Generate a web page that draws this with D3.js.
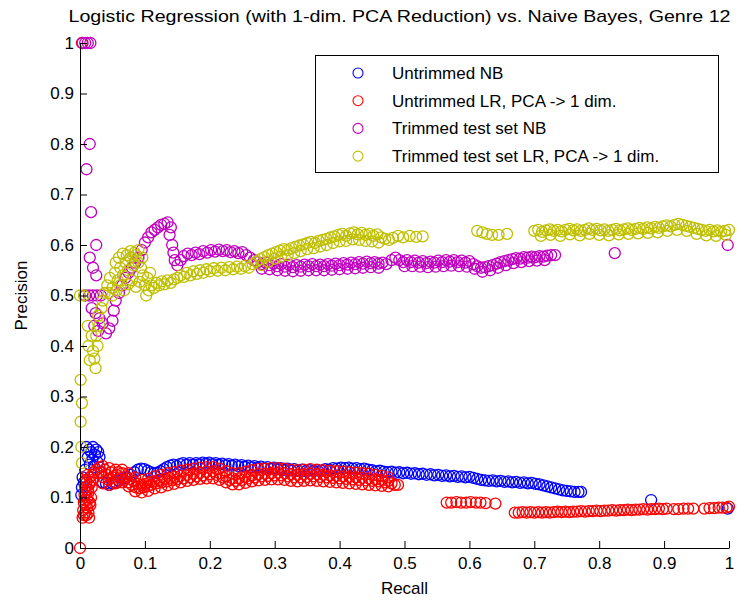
<!DOCTYPE html>
<html>
<head>
<meta charset="utf-8">
<script src="https://cdn.jsdelivr.net/npm/d3@7"></script>
<style>
  body { margin: 0; background: #fff; }
  svg { display: block; }
  text { font-family: "Liberation Sans", Arial, sans-serif; fill: #000; }
</style>
</head>
<body>
<svg width="744" height="601"></svg>
<script>
// precision / recall pairs: [recall, precision]
var untrimmedNB = [
  [0.002,0.105],[0.003,0.12],[0.004,0.14],[0.006,0.13],[0.008,0.155],[0.010,0.20],[0.012,0.18],[0.014,0.195],
  [0.015,0.165],[0.017,0.19],[0.019,0.175],[0.020,0.20],[0.022,0.16],[0.023,0.185],[0.025,0.195],[0.027,0.17],
  [0.028,0.19],[0.030,0.18],[0.032,0.15],[0.035,0.13],[0.040,0.128],[0.045,0.125],[0.050,0.128],[0.055,0.13],
  [0.060,0.133],[0.066,0.137],[0.072,0.14],[0.078,0.145],[0.084,0.15],[0.089,0.155],[0.094,0.157],[0.099,0.156],
  [0.104,0.153],[0.109,0.15],[0.114,0.148],[0.119,0.149],[0.124,0.152],[0.129,0.156],[0.134,0.16],[0.139,0.163],
  [0.144,0.165],[0.149,0.162],[0.154,0.166],[0.159,0.168],[0.164,0.165],[0.169,0.168],[0.174,0.165],[0.179,0.168],
  [0.184,0.166],[0.189,0.169],[0.194,0.167],[0.199,0.169],[0.204,0.166],[0.209,0.168],[0.214,0.165],[0.219,0.167],
  [0.224,0.164],[0.229,0.166],[0.234,0.163],[0.239,0.165],[0.244,0.162],[0.249,0.164],[0.254,0.161],[0.259,0.163],
  [0.264,0.16],[0.269,0.162],[0.274,0.159],[0.279,0.161],[0.284,0.158],[0.289,0.16],[0.294,0.157],[0.299,0.159],
  [0.304,0.156],[0.309,0.158],[0.314,0.155],[0.32,0.157],[0.325,0.154],[0.33,0.156],[0.336,0.153],[0.342,0.155],
  [0.348,0.152],[0.354,0.154],[0.36,0.152],[0.366,0.154],[0.372,0.153],[0.378,0.156],[0.384,0.155],[0.39,0.158],
  [0.396,0.157],[0.402,0.159],[0.408,0.158],[0.414,0.159],[0.42,0.157],[0.426,0.158],[0.432,0.156],[0.438,0.157],
  [0.444,0.155],[0.45,0.154],[0.456,0.152],[0.462,0.153],[0.468,0.151],[0.474,0.15],[0.48,0.151],[0.486,0.149],
  [0.492,0.15],[0.498,0.148],[0.504,0.149],[0.51,0.147],[0.516,0.148],[0.522,0.146],[0.528,0.147],[0.534,0.145],
  [0.54,0.146],[0.546,0.144],[0.552,0.145],[0.558,0.143],[0.564,0.144],[0.57,0.142],[0.576,0.143],[0.582,0.141],
  [0.588,0.142],[0.594,0.14],[0.6,0.141],[0.606,0.139],[0.612,0.137],[0.618,0.135],[0.624,0.134],[0.63,0.133],
  [0.636,0.134],[0.642,0.132],[0.648,0.133],[0.654,0.131],[0.66,0.132],[0.666,0.13],[0.672,0.131],[0.678,0.129],
  [0.684,0.13],[0.69,0.128],[0.696,0.129],[0.702,0.127],[0.708,0.126],[0.714,0.124],[0.72,0.122],[0.726,0.12],
  [0.732,0.118],[0.738,0.116],[0.744,0.114],[0.75,0.113],[0.756,0.112],[0.762,0.111],[0.768,0.111],[0.772,0.111],
  [0.88,0.095],[0.998,0.078]
];

var untrimmedLR = [
  [0,0],[0.003,1.0],
  [0.004,0.06],[0.005,0.075],[0.006,0.09],[0.007,0.105],[0.008,0.12],[0.009,0.135],[0.008,0.07],[0.010,0.065],
  [0.011,0.08],[0.012,0.095],[0.013,0.11],[0.014,0.125],[0.015,0.14],[0.013,0.07],[0.016,0.085],[0.017,0.1],
  [0.006,0.065],[0.009,0.085],[0.011,0.1],[0.012,0.115],[0.010,0.13],[0.012,0.145],[0.016,0.13],[0.019,0.145],
  [0.014,0.06],[0.015,0.09],[0.007,0.095],[0.009,0.11],
  [0.018,0.12],[0.02,0.135],[0.022,0.15],[0.025,0.155],[0.028,0.148],[0.03,0.16],[0.033,0.15],[0.036,0.14],
  [0.038,0.155],[0.041,0.145],[0.044,0.135],[0.047,0.15],[0.05,0.14],[0.053,0.13],[0.056,0.145],[0.059,0.15],
  [0.062,0.14],[0.065,0.148],[0.068,0.135],[0.071,0.142],[0.074,0.13],[0.077,0.137],[0.08,0.125],[0.083,0.132],
  [0.086,0.12],[0.089,0.127],[0.092,0.118],[0.095,0.125],[0.098,0.12],[0.101,0.127],[0.104,0.122],[0.107,0.13],
  [0.11,0.125],[0.114,0.132],[0.118,0.128],[0.122,0.135],[0.126,0.13],[0.13,0.137],[0.134,0.132],[0.138,0.139],
  [0.142,0.134],[0.146,0.141],[0.15,0.136],[0.155,0.143],[0.16,0.138],[0.165,0.145],[0.17,0.14],[0.175,0.147],
  [0.18,0.142],[0.185,0.149],[0.19,0.144],[0.195,0.151],[0.2,0.146],[0.205,0.152],[0.21,0.145],[0.215,0.148],
  [0.22,0.14],[0.225,0.142],[0.23,0.135],[0.235,0.138],[0.24,0.133],[0.245,0.138],[0.25,0.135],[0.255,0.141],
  [0.26,0.138],[0.265,0.144],[0.27,0.14],[0.275,0.146],[0.28,0.142],[0.285,0.147],[0.29,0.143],[0.295,0.148],
  [0.3,0.144],[0.305,0.149],[0.31,0.144],[0.315,0.148],[0.32,0.142],[0.325,0.146],[0.33,0.14],[0.335,0.145],
  [0.34,0.14],[0.345,0.146],[0.35,0.141],[0.355,0.147],[0.36,0.142],[0.365,0.146],[0.37,0.141],[0.375,0.145],
  [0.38,0.14],[0.385,0.144],[0.39,0.139],[0.395,0.143],[0.4,0.138],[0.405,0.142],[0.41,0.137],[0.415,0.141],
  [0.42,0.136],[0.425,0.14],[0.43,0.135],[0.435,0.139],[0.44,0.134],[0.445,0.138],[0.45,0.133],[0.455,0.136],
  [0.46,0.132],[0.465,0.135],[0.47,0.13],[0.475,0.133],[0.48,0.128],[0.485,0.125],[0.49,0.125],
  // upper edge of the thick band
  [0.035,0.162],[0.045,0.158],[0.055,0.155],[0.065,0.155],[0.075,0.148],[0.085,0.14],[0.095,0.135],[0.105,0.137],
  [0.115,0.142],[0.125,0.145],[0.135,0.148],[0.145,0.15],[0.155,0.153],[0.165,0.155],[0.175,0.157],[0.185,0.159],
  [0.195,0.16],[0.205,0.16],[0.215,0.157],[0.225,0.152],[0.235,0.148],[0.245,0.148],[0.255,0.151],[0.265,0.154],
  [0.275,0.156],[0.285,0.157],[0.295,0.158],[0.305,0.158],[0.315,0.157],[0.325,0.155],[0.335,0.154],[0.345,0.155],
  [0.355,0.156],[0.365,0.155],[0.375,0.154],[0.385,0.153],[0.395,0.152],[0.405,0.151],[0.415,0.15],[0.425,0.149],
  [0.435,0.148],[0.445,0.147],[0.455,0.145],[0.465,0.143],[0.475,0.14],
  // lower edge
  [0.035,0.128],[0.045,0.125],[0.055,0.128],[0.065,0.13],[0.075,0.122],[0.085,0.112],[0.095,0.11],[0.105,0.113],
  [0.115,0.118],[0.125,0.12],[0.135,0.124],[0.145,0.127],[0.155,0.13],[0.165,0.133],[0.175,0.135],[0.185,0.137],
  [0.195,0.138],[0.205,0.138],[0.215,0.135],[0.225,0.13],[0.235,0.126],[0.245,0.126],[0.255,0.129],[0.265,0.132],
  [0.275,0.134],[0.285,0.135],[0.295,0.136],[0.305,0.136],[0.315,0.135],[0.325,0.133],[0.335,0.132],[0.345,0.133],
  [0.355,0.134],[0.365,0.133],[0.375,0.132],[0.385,0.131],[0.395,0.13],[0.405,0.129],[0.415,0.128],[0.425,0.127],
  [0.435,0.126],[0.445,0.125],[0.455,0.124],[0.465,0.123],[0.475,0.122],
  [0.565,0.09],[0.572,0.09],[0.58,0.091],[0.587,0.09],[0.595,0.09],[0.602,0.091],[0.61,0.09],[0.617,0.09],
  [0.625,0.089],[0.64,0.088],
  [0.67,0.07],[0.676,0.07],[0.682,0.071],[0.688,0.07],[0.694,0.071],[0.7,0.07],[0.706,0.071],[0.712,0.07],
  [0.718,0.071],[0.724,0.07],[0.73,0.071],[0.736,0.072],[0.742,0.071],[0.748,0.072],[0.754,0.071],[0.76,0.072],
  [0.766,0.072],[0.772,0.073],[0.778,0.072],[0.784,0.073],[0.79,0.073],[0.796,0.074],[0.802,0.073],[0.808,0.074],
  [0.814,0.074],[0.82,0.075],[0.826,0.074],[0.832,0.075],[0.838,0.075],[0.844,0.076],[0.85,0.075],[0.856,0.076],
  [0.862,0.076],[0.868,0.077],[0.874,0.076],[0.88,0.077],[0.886,0.077],[0.892,0.078],[0.898,0.077],[0.904,0.078],
  [0.915,0.077],[0.922,0.077],[0.93,0.078],[0.937,0.078],[0.945,0.078],[0.962,0.078],[0.97,0.079],[0.977,0.079],
  [0.984,0.08],[0.99,0.08],[0.996,0.08],[1.0,0.082]
];

var trimmedNB = [
  [0.004,1.0],[0.008,1.0],[0.012,1.0],[0.016,1.0],
  [0.015,0.8],[0.01,0.75],[0.017,0.665],[0.025,0.6],[0.015,0.575],[0.02,0.555],[0.025,0.54],
  [0.008,0.5],[0.014,0.5],[0.02,0.5],[0.026,0.5],[0.032,0.5],
  [0.018,0.475],[0.024,0.465],[0.03,0.455],[0.022,0.44],[0.028,0.43],[0.035,0.445],[0.04,0.425],[0.045,0.435],
  [0.05,0.45],[0.052,0.47],[0.055,0.49],[0.06,0.505],[0.065,0.52],[0.07,0.535],[0.075,0.545],[0.08,0.555],
  [0.085,0.565],[0.09,0.575],[0.095,0.59],[0.1,0.605],[0.105,0.615],[0.11,0.625],[0.115,0.63],[0.12,0.635],
  [0.125,0.64],[0.13,0.642],[0.135,0.645],[0.14,0.635],[0.138,0.62],[0.142,0.6],[0.144,0.585],[0.146,0.57],
  [0.15,0.56],[0.155,0.57],[0.16,0.578],[0.166,0.583],[0.172,0.58],[0.178,0.585],[0.184,0.582],[0.19,0.588],
  [0.196,0.585],[0.202,0.59],[0.208,0.587],[0.214,0.591],[0.22,0.588],[0.226,0.59],[0.232,0.586],[0.238,0.588],
  [0.244,0.584],[0.25,0.586],[0.256,0.58],[0.262,0.575],[0.268,0.57],[0.274,0.566],[0.28,0.562],[0.286,0.565],
  [0.292,0.56],[0.298,0.563],[0.304,0.558],[0.31,0.562],[0.316,0.557],[0.322,0.561],[0.328,0.556],[0.334,0.56],
  [0.34,0.557],[0.346,0.561],[0.352,0.558],[0.358,0.562],[0.364,0.558],[0.37,0.561],[0.376,0.558],[0.382,0.562],
  [0.388,0.559],[0.394,0.563],[0.4,0.56],[0.406,0.564],[0.412,0.561],[0.418,0.565],[0.424,0.562],[0.43,0.566],
  [0.436,0.563],[0.442,0.567],[0.448,0.564],[0.454,0.566],[0.46,0.563],[0.466,0.565],[0.472,0.562],[0.48,0.57],
  [0.486,0.575],[0.492,0.57],[0.498,0.566],[0.504,0.57],[0.51,0.566],[0.516,0.569],[0.522,0.565],[0.528,0.568],
  [0.534,0.564],[0.54,0.567],[0.546,0.565],[0.552,0.569],[0.558,0.566],[0.564,0.57],[0.57,0.567],[0.576,0.57],
  [0.582,0.566],[0.588,0.569],[0.594,0.565],[0.6,0.568],[0.606,0.562],[0.612,0.558],[0.618,0.555],[0.624,0.556],
  [0.63,0.558],[0.636,0.56],[0.642,0.563],[0.648,0.566],[0.654,0.568],[0.66,0.57],[0.666,0.572],[0.672,0.574],
  [0.678,0.573],[0.684,0.576],[0.69,0.575],[0.696,0.577],[0.702,0.576],[0.708,0.578],[0.714,0.577],[0.72,0.579],
  [0.726,0.58],[0.732,0.58],
  [0.28,0.553],[0.292,0.552],[0.304,0.55],[0.316,0.549],[0.328,0.548],[0.34,0.549],[0.352,0.55],[0.364,0.55],
  [0.376,0.55],[0.388,0.551],[0.4,0.552],[0.412,0.553],[0.424,0.554],[0.436,0.555],[0.448,0.556],[0.46,0.555],
  [0.5,0.558],[0.512,0.558],[0.524,0.557],[0.536,0.556],[0.548,0.557],[0.56,0.558],[0.572,0.559],[0.584,0.558],
  [0.596,0.557],[0.608,0.553],[0.62,0.547],[0.632,0.55],[0.644,0.555],[0.656,0.56],[0.668,0.564],[0.68,0.566],
  [0.692,0.568],[0.704,0.569],[0.716,0.57],
  [0.824,0.584],[0.998,0.6]
];

var trimmedLR = [
  [0.0,0.5],[0.006,0.5],[0.003,0.168],[0.002,0.2],[0.001,0.25],[0.003,0.287],[0.001,0.333],
  [0.012,0.44],[0.018,0.42],[0.013,0.4],[0.02,0.39],[0.015,0.372],[0.024,0.356],[0.022,0.375],[0.027,0.4],
  [0.025,0.42],[0.03,0.44],[0.028,0.46],[0.033,0.475],[0.035,0.49],[0.038,0.505],[0.042,0.52],[0.046,0.535],
  [0.05,0.515],[0.054,0.545],[0.058,0.53],[0.062,0.555],[0.066,0.54],[0.07,0.565],[0.074,0.55],[0.078,0.575],
  [0.082,0.56],[0.086,0.58],[0.09,0.565],[0.094,0.555],[0.097,0.54],[0.1,0.52],[0.102,0.5],[0.106,0.51],
  [0.044,0.505],[0.05,0.5],[0.056,0.51],[0.062,0.52],[0.068,0.51],[0.074,0.522],[0.08,0.53],[0.086,0.517],
  [0.092,0.527],[0.055,0.565],[0.06,0.575],[0.066,0.583],[0.072,0.58],[0.078,0.588],[0.084,0.585],[0.09,0.59],
  [0.096,0.575],[0.104,0.535],[0.108,0.545],
  [0.11,0.52],[0.114,0.515],[0.118,0.525],[0.122,0.52],[0.126,0.528],[0.13,0.522],[0.135,0.53],[0.14,0.525],
  [0.145,0.532],[0.15,0.535],[0.155,0.54],[0.16,0.537],[0.165,0.545],[0.17,0.54],[0.175,0.548],[0.18,0.543],
  [0.185,0.55],[0.19,0.545],[0.195,0.552],[0.2,0.548],[0.206,0.554],[0.212,0.549],[0.218,0.555],[0.224,0.55],
  [0.23,0.556],[0.236,0.552],[0.242,0.557],[0.248,0.553],[0.254,0.558],[0.26,0.555],[0.266,0.562],[0.272,0.567],
  [0.278,0.572],[0.284,0.576],[0.29,0.58],[0.296,0.583],[0.302,0.586],[0.308,0.589],[0.314,0.592],[0.32,0.59],
  [0.326,0.594],[0.332,0.596],[0.338,0.599],[0.344,0.601],[0.35,0.604],[0.356,0.606],[0.362,0.604],[0.368,0.608],
  [0.374,0.61],[0.38,0.612],[0.386,0.615],[0.392,0.617],[0.398,0.62],[0.404,0.622],[0.41,0.618],[0.416,0.623],
  [0.422,0.625],[0.428,0.621],[0.434,0.624],[0.44,0.62],[0.446,0.622],[0.452,0.618],[0.458,0.621],[0.464,0.615],
  [0.47,0.612],[0.476,0.61],[0.482,0.614],[0.49,0.618],[0.498,0.615],[0.508,0.618],[0.518,0.616],[0.528,0.617],
  [0.28,0.56],[0.29,0.567],[0.3,0.573],[0.31,0.577],[0.32,0.58],[0.33,0.584],[0.34,0.588],[0.35,0.592],
  [0.36,0.594],[0.37,0.597],[0.38,0.6],[0.39,0.604],[0.4,0.607],[0.41,0.608],[0.42,0.611],[0.43,0.61],
  [0.44,0.608],[0.45,0.607],[0.46,0.605],
  [0.612,0.628],[0.62,0.625],[0.627,0.622],[0.635,0.62],[0.645,0.62],[0.658,0.622],
  [0.7,0.628],[0.706,0.63],[0.712,0.626],[0.718,0.629],[0.724,0.631],[0.73,0.628],[0.736,0.63],[0.742,0.627],
  [0.748,0.63],[0.754,0.632],[0.76,0.629],[0.766,0.631],[0.772,0.628],[0.778,0.63],[0.784,0.633],[0.79,0.63],
  [0.796,0.632],[0.802,0.629],[0.808,0.631],[0.814,0.628],[0.82,0.63],[0.826,0.632],[0.832,0.629],[0.838,0.631],
  [0.844,0.633],[0.85,0.63],[0.856,0.632],[0.862,0.634],[0.868,0.632],[0.874,0.635],[0.88,0.633],[0.886,0.636],
  [0.892,0.634],[0.898,0.637],[0.904,0.639],[0.91,0.637],[0.916,0.64],[0.922,0.642],[0.928,0.64],[0.934,0.638],
  [0.94,0.636],[0.946,0.634],[0.952,0.632],[0.958,0.63],[0.964,0.628],[0.97,0.63],[0.976,0.627],[0.982,0.629],
  [0.988,0.626],[0.994,0.628],[1.0,0.63],
  [0.71,0.618],[0.725,0.62],[0.74,0.618],[0.755,0.621],[0.77,0.619],[0.785,0.622],[0.8,0.62],[0.815,0.619],
  [0.83,0.621],[0.845,0.622],[0.86,0.623],[0.875,0.624],[0.89,0.625],[0.905,0.628],[0.92,0.63],[0.935,0.628],
  [0.95,0.622],[0.965,0.619],[0.98,0.618],[0.995,0.62]
];

var seriesNames = ["Untrimmed NB", "Untrimmed LR, PCA -> 1 dim.", "Trimmed test set NB", "Trimmed test set LR, PCA -> 1 dim."];
var seriesColors = ["#0000ff", "#ff0000", "#bf00bf", "#bfbf00"];
var seriesData = [untrimmedNB, untrimmedLR, trimmedNB, trimmedLR];
var tickValues = [0, 0.1, 0.2, 0.3, 0.4, 0.5, 0.6, 0.7, 0.8, 0.9, 1];
var tickLabels = ["0", "0.1", "0.2", "0.3", "0.4", "0.5", "0.6", "0.7", "0.8", "0.9", "1"];

// plot box (window.top is read-only, so no bare "top" here)
var pLeft = 80, pRight = 729, pTop = 43, pBottom = 548;

var svg = d3.select("svg"),
  x = d3.scaleLinear().domain([0, 1]).range([pLeft, pRight]),
  y = d3.scaleLinear().domain([0, 1]).range([pBottom, pTop]);

// points first, axes drawn over them like matlab does
var punti = svg.append("g").attr("class", "punti");
seriesData.forEach(function(serie, k) {
  punti.append("g")
    .selectAll("circle")
    .data(serie)
    .enter().append("circle")
      .attr("cx", function(d) { return x(d[0]); })
      .attr("cy", function(d) { return y(d[1]); })
      .attr("r", 5.5)
      .attr("fill", "none")
      .attr("stroke", seriesColors[k])
      .attr("stroke-width", 1.3);
});

var fmt = function(d) { return tickLabels[tickValues.indexOf(d)]; };

var assex = svg.append("g")
  .attr("transform", "translate(0," + pBottom + ")")
  .call(d3.axisBottom(x).tickValues(tickValues).tickFormat(fmt)
    .tickSizeInner(-7).tickSizeOuter(0).tickPadding(9));

var assey = svg.append("g")
  .attr("transform", "translate(" + pLeft + ",0)")
  .call(d3.axisLeft(y).tickValues(tickValues).tickFormat(fmt)
    .tickSizeInner(-7).tickSizeOuter(0).tickPadding(6));

[assex, assey].forEach(function(a) {
  a.selectAll("text").style("font-size", "17px").style("font-family", "'Liberation Sans', Arial, sans-serif").attr("fill", "#000");
  a.selectAll("line").attr("stroke", "#000");
  a.select(".domain").attr("stroke", "#000");
});

svg.append("text")
  .attr("x", (pLeft + pRight) / 2 - 5)
  .attr("y", 22)
  .attr("text-anchor", "middle")
  .attr("textLength", 662)
  .attr("lengthAdjust", "spacingAndGlyphs")
  .style("font-size", "17px")
  .text("Logistic Regression (with 1-dim. PCA Reduction) vs. Naive Bayes, Genre 12");

svg.append("text")
  .attr("x", (pLeft + pRight) / 2)
  .attr("y", 594)
  .attr("text-anchor", "middle")
  .style("font-size", "17px")
  .text("Recall");

svg.append("text")
  .attr("transform", "translate(27," + (pTop + pBottom) / 2 + ") rotate(-90)")
  .attr("text-anchor", "middle")
  .style("font-size", "17px")
  .text("Precision");

// legenda
var legenda = svg.append("g").attr("class", "legenda");
legenda.append("rect")
  .attr("x", 315.5).attr("y", 55.5)
  .attr("width", 403).attr("height", 117)
  .attr("fill", "#fff")
  .attr("stroke", "#000");

seriesNames.forEach(function(nome, k) {
  var yy = 73 + k * 27.7;
  legenda.append("circle")
    .attr("cx", 358).attr("cy", yy).attr("r", 5)
    .attr("fill", "none")
    .attr("stroke", seriesColors[k])
    .attr("stroke-width", 1.1);
  legenda.append("text")
    .attr("x", 392).attr("y", yy)
    .attr("dy", "0.35em")
    .style("font-size", "17px")
    .text(nome);
});
</script>
</body>
</html>
